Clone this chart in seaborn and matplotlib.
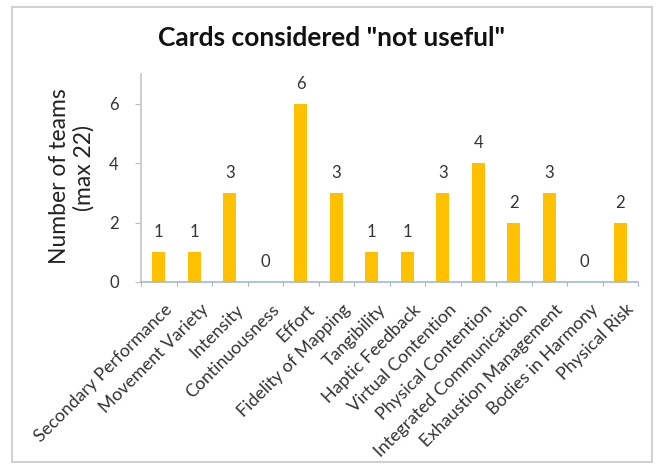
import matplotlib
matplotlib.use("Agg")
import matplotlib.pyplot as plt
import matplotlib.transforms as mtransforms
import seaborn as sns
import pandas as pd
from matplotlib.patches import Rectangle

categories = ["Secondary Performance", "Movement Variety", "Intensity", "Continuousness",
              "Effort", "Fidelity of Mapping", "Tangibility", "Haptic Feedback",
              "Virtual Contention", "Physical Contention", "Integrated Communication",
              "Exhaustion Management", "Bodies in Harmony", "Physical Risk"]
values = [1, 1, 3, 0, 6, 3, 1, 1, 3, 4, 2, 3, 0, 2]
yticks = [0, 2, 4, 6]

sns.set_theme(style="white")
plt.rcParams['font.family'] = ['Lato', 'DejaVu Sans']

df = pd.DataFrame({"card": categories, "teams": values})

W, H = 656, 465
fig = plt.figure(figsize=(W / 100, H / 100), dpi=100)
fig.patch.set_facecolor("white")
fig.add_artist(Rectangle((12 / W, 1 - 462 / H), (652 - 12) / W, (462 - 7) / H,
                         transform=fig.transFigure, fill=False, edgecolor="#c8c8c8", lw=1.2))
ax = fig.add_axes([141 / W, 1 - 282 / H, (638 - 141) / W, (282 - 74) / H])
sns.barplot(data=df, x="card", y="teams", color="#FFC000", width=0.38, ax=ax,
            saturation=1, edgecolor="none")
ax.set_ylim(0, 7)
ax.set_xlim(-0.5, len(categories) - 0.5)
ax.set_yticks(yticks)
ax.set_yticklabels([str(t) for t in yticks], fontsize=12, color="#333333")
ax.tick_params(axis='y', length=4, width=0.8, color="#bbbbbb", pad=12, left=True)
ax.set_xticks(range(len(categories)))
ax.set_xticklabels(categories, rotation=45, ha="right", va="top", rotation_mode="anchor",
                   fontsize=12.8, color="#333333")
ax.tick_params(axis='x', length=0, pad=14)
shift = mtransforms.ScaledTranslation(4 / 72, 0, fig.dpi_scale_trans)
for lab in ax.get_xticklabels():
    lab.set_transform(lab.get_transform() + shift)
for i in range(len(categories) + 1):
    ax.plot([i - 0.5, i - 0.5], [0, -0.14], color="#a8bcd0", lw=0.8, clip_on=False)
for s in ["top", "right"]:
    ax.spines[s].set_visible(False)
ax.spines["left"].set_color("#c8c8c8")
ax.spines["bottom"].set_color("#a8bcd0")
ax.set_xlabel("")
ax.set_ylabel("")
fig.text(60 / W, 1 - 176 / H, "Number of teams", rotation=90, rotation_mode="anchor",
         ha="center", va="center", fontsize=16.5, color="#222222")
fig.text(84 / W, 1 - 168 / H, "(max 22)", rotation=90, rotation_mode="anchor",
         ha="center", va="center", fontsize=16.5, color="#222222")
for i, v in enumerate(values):
    ax.text(i, v + 0.4, str(v), ha="center", va="bottom", fontsize=12, color="#333333")
fig.text(332 / W, 1 - 46 / H, 'Cards considered "not useful"', ha="center", va="baseline",
         fontsize=19, fontweight="bold", color="#111111")
fig.savefig("out.png", dpi=100)
